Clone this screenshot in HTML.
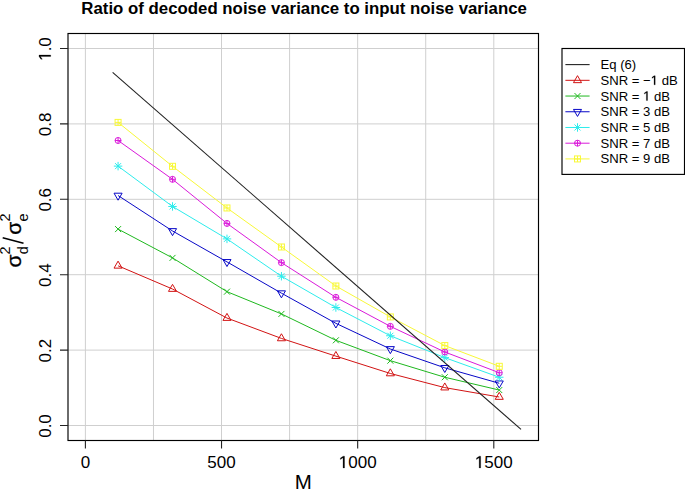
<!DOCTYPE html>
<html><head><meta charset="utf-8"><style>
html,body{margin:0;padding:0;background:#fff;width:685px;height:493px;overflow:hidden}
svg{display:block;font-family:"Liberation Sans",sans-serif}
</style></head><body>
<svg width="685" height="493" viewBox="0 0 685 493" font-family="Liberation Sans, sans-serif">
<rect width="685" height="493" fill="#fff"/>
<path d="M85.4 33.5V440.5M153.47 33.5V440.5M221.53 33.5V440.5M289.6 33.5V440.5M357.67 33.5V440.5M425.73 33.5V440.5M493.8 33.5V440.5M68 425.5H538.5M68 350.1H538.5M68 274.7H538.5M68 199.3H538.5M68 123.9H538.5M68 48.5H538.5" stroke="#cfcfcf" stroke-width="1" fill="none"/>
<g fill="none" stroke-width="1.0">
<polyline points="118.07,265.8 172.53,289.03 226.98,318.06 281.43,338.41 335.89,356.13 390.34,373.47 444.79,387.61 499.25,397" stroke="#d21313"/>
<polygon points="118.07,261.14 122.11,268.14 114.03,268.14" stroke="#d21313"/>
<polygon points="172.53,284.36 176.57,291.36 168.48,291.36" stroke="#d21313"/>
<polygon points="226.98,313.39 231.02,320.39 222.94,320.39" stroke="#d21313"/>
<polygon points="281.43,333.75 285.47,340.75 277.39,340.75" stroke="#d21313"/>
<polygon points="335.89,351.47 339.93,358.46 331.84,358.46" stroke="#d21313"/>
<polygon points="390.34,368.81 394.38,375.81 386.3,375.81" stroke="#d21313"/>
<polygon points="444.79,382.95 448.83,389.94 440.75,389.94" stroke="#d21313"/>
<polygon points="499.25,392.33 503.29,399.33 495.2,399.33" stroke="#d21313"/>
<polyline points="118.07,229.08 172.53,257.89 226.98,291.67 281.43,313.91 335.89,340.3 390.34,360.66 444.79,377.24 499.25,390.06" stroke="#1eb81e"/>
<path d="M115.07 226.08L121.07 232.08M115.07 232.08L121.07 226.08" stroke="#1eb81e"/>
<path d="M169.53 254.89L175.53 260.89M169.53 260.89L175.53 254.89" stroke="#1eb81e"/>
<path d="M223.98 288.67L229.98 294.67M223.98 294.67L229.98 288.67" stroke="#1eb81e"/>
<path d="M278.43 310.91L284.43 316.91M278.43 316.91L284.43 310.91" stroke="#1eb81e"/>
<path d="M332.89 337.3L338.89 343.3M332.89 343.3L338.89 337.3" stroke="#1eb81e"/>
<path d="M387.34 357.66L393.34 363.66M387.34 363.66L393.34 357.66" stroke="#1eb81e"/>
<path d="M441.79 374.24L447.79 380.24M441.79 380.24L447.79 374.24" stroke="#1eb81e"/>
<path d="M496.25 387.06L502.25 393.06M496.25 393.06L502.25 387.06" stroke="#1eb81e"/>
<polyline points="118.07,195.53 172.53,230.97 226.98,261.88 281.43,293.17 335.89,323.33 390.34,348.97 444.79,367.82 499.25,383.28" stroke="#0707c7"/>
<polygon points="118.07,200.2 122.11,193.2 114.03,193.2" stroke="#0707c7"/>
<polygon points="172.53,235.63 176.57,228.64 168.48,228.64" stroke="#0707c7"/>
<polygon points="226.98,266.55 231.02,259.55 222.94,259.55" stroke="#0707c7"/>
<polygon points="281.43,297.84 285.47,290.84 277.39,290.84" stroke="#0707c7"/>
<polygon points="335.89,328 339.93,321 331.84,321" stroke="#0707c7"/>
<polygon points="390.34,353.63 394.38,346.64 386.3,346.64" stroke="#0707c7"/>
<polygon points="444.79,372.48 448.83,365.49 440.75,365.49" stroke="#0707c7"/>
<polygon points="499.25,387.94 503.29,380.94 495.2,380.94" stroke="#0707c7"/>
<polyline points="118.07,166.12 172.53,206.46 226.98,238.88 281.43,276.21 335.89,307.5 390.34,335.77 444.79,357.64 499.25,377.24" stroke="#2decec"/>
<path d="M115.07 163.12L121.07 169.12M115.07 169.12L121.07 163.12M113.83 166.12L122.31 166.12M118.07 161.88L118.07 170.37" stroke="#2decec"/>
<path d="M169.53 203.46L175.53 209.46M169.53 209.46L175.53 203.46M168.28 206.46L176.77 206.46M172.53 202.22L172.53 210.71" stroke="#2decec"/>
<path d="M223.98 235.88L229.98 241.88M223.98 241.88L229.98 235.88M222.74 238.88L231.22 238.88M226.98 234.64L226.98 243.13" stroke="#2decec"/>
<path d="M278.43 273.21L284.43 279.21M278.43 279.21L284.43 273.21M277.19 276.21L285.67 276.21M281.43 271.97L281.43 280.45" stroke="#2decec"/>
<path d="M332.89 304.5L338.89 310.5M332.89 310.5L338.89 304.5M331.64 307.5L340.13 307.5M335.89 303.26L335.89 311.74" stroke="#2decec"/>
<path d="M387.34 332.77L393.34 338.77M387.34 338.77L393.34 332.77M386.1 335.77L394.58 335.77M390.34 331.53L390.34 340.02" stroke="#2decec"/>
<path d="M441.79 354.64L447.79 360.64M441.79 360.64L447.79 354.64M440.55 357.64L449.03 357.64M444.79 353.4L444.79 361.88" stroke="#2decec"/>
<path d="M496.25 374.24L502.25 380.24M496.25 380.24L502.25 374.24M495 377.24L503.49 377.24M499.25 373L499.25 381.49" stroke="#2decec"/>
<polyline points="118.07,140.49 172.53,179.32 226.98,223.43 281.43,262.64 335.89,297.32 390.34,326.35 444.79,351.99 499.25,372.72" stroke="#da1ada"/>
<circle cx="118.07" cy="140.49" r="3" stroke="#da1ada"/><path d="M115.07 140.49L121.07 140.49M118.07 137.49L118.07 143.49" stroke="#da1ada"/>
<circle cx="172.53" cy="179.32" r="3" stroke="#da1ada"/><path d="M169.53 179.32L175.53 179.32M172.53 176.32L172.53 182.32" stroke="#da1ada"/>
<circle cx="226.98" cy="223.43" r="3" stroke="#da1ada"/><path d="M223.98 223.43L229.98 223.43M226.98 220.43L226.98 226.43" stroke="#da1ada"/>
<circle cx="281.43" cy="262.64" r="3" stroke="#da1ada"/><path d="M278.43 262.64L284.43 262.64M281.43 259.64L281.43 265.64" stroke="#da1ada"/>
<circle cx="335.89" cy="297.32" r="3" stroke="#da1ada"/><path d="M332.89 297.32L338.89 297.32M335.89 294.32L335.89 300.32" stroke="#da1ada"/>
<circle cx="390.34" cy="326.35" r="3" stroke="#da1ada"/><path d="M387.34 326.35L393.34 326.35M390.34 323.35L390.34 329.35" stroke="#da1ada"/>
<circle cx="444.79" cy="351.99" r="3" stroke="#da1ada"/><path d="M441.79 351.99L447.79 351.99M444.79 348.99L444.79 354.99" stroke="#da1ada"/>
<circle cx="499.25" cy="372.72" r="3" stroke="#da1ada"/><path d="M496.25 372.72L502.25 372.72M499.25 369.72L499.25 375.72" stroke="#da1ada"/>
<polyline points="118.07,122.39 172.53,166.31 226.98,207.97 281.43,246.99 335.89,286.01 390.34,316.92 444.79,345.58 499.25,366.31" stroke="#f8f838"/>
<rect x="115.07" y="119.39" width="6" height="6" stroke="#f8f838"/><path d="M115.07 122.39L121.07 122.39M118.07 119.39L118.07 125.39" stroke="#f8f838"/>
<rect x="169.53" y="163.31" width="6" height="6" stroke="#f8f838"/><path d="M169.53 166.31L175.53 166.31M172.53 163.31L172.53 169.31" stroke="#f8f838"/>
<rect x="223.98" y="204.97" width="6" height="6" stroke="#f8f838"/><path d="M223.98 207.97L229.98 207.97M226.98 204.97L226.98 210.97" stroke="#f8f838"/>
<rect x="278.43" y="243.99" width="6" height="6" stroke="#f8f838"/><path d="M278.43 246.99L284.43 246.99M281.43 243.99L281.43 249.99" stroke="#f8f838"/>
<rect x="332.89" y="283.01" width="6" height="6" stroke="#f8f838"/><path d="M332.89 286.01L338.89 286.01M335.89 283.01L335.89 289.01" stroke="#f8f838"/>
<rect x="387.34" y="313.92" width="6" height="6" stroke="#f8f838"/><path d="M387.34 316.92L393.34 316.92M390.34 313.92L390.34 319.92" stroke="#f8f838"/>
<rect x="441.79" y="342.58" width="6" height="6" stroke="#f8f838"/><path d="M441.79 345.58L447.79 345.58M444.79 342.58L444.79 348.58" stroke="#f8f838"/>
<rect x="496.25" y="363.31" width="6" height="6" stroke="#f8f838"/><path d="M496.25 366.31L502.25 366.31M499.25 363.31L499.25 369.31" stroke="#f8f838"/>
</g>
<path d="M112.63 72.3L521.03 429.31" stroke="#222" stroke-width="1.1" fill="none"/>
<rect x="68" y="33.5" width="470.5" height="407" fill="none" stroke="#000" stroke-width="1.15"/>
<path d="M85.4 440.5V448.5M221.53 440.5V448.5M357.67 440.5V448.5M493.8 440.5V448.5M60 425.5H68M60 350.1H68M60 274.7H68M60 199.3H68M60 123.9H68M60 48.5H68" stroke="#222" stroke-width="1.1" fill="none"/>
<g transform="translate(85.4 467.9)"><text x="-4.73" y="0" font-size="17">0</text></g>
<g transform="translate(221.53 467.9)"><text x="-14.18" y="0" font-size="17">500</text></g>
<g transform="translate(357.67 467.9)"><text x="-18.91" y="0" font-size="17"> 000</text><path transform="translate(-18.91 0) scale(0.008301 -0.008301)" stroke="#000" stroke-width="30.12" d="M515 0L515 1237L197 1010L197 1180L530 1409L696 1409L696 0Z"/></g>
<g transform="translate(493.8 467.9)"><text x="-18.91" y="0" font-size="17"> 500</text><path transform="translate(-18.91 0) scale(0.008301 -0.008301)" stroke="#000" stroke-width="30.12" d="M515 0L515 1237L197 1010L197 1180L530 1409L696 1409L696 0Z"/></g>
<g transform="translate(50.7 426) rotate(-90)"><text x="-11.82" y="0" font-size="17">0.0</text></g>
<g transform="translate(50.7 350.6) rotate(-90)"><text x="-11.82" y="0" font-size="17">0.2</text></g>
<g transform="translate(50.7 275.2) rotate(-90)"><text x="-11.82" y="0" font-size="17">0.4</text></g>
<g transform="translate(50.7 199.8) rotate(-90)"><text x="-11.82" y="0" font-size="17">0.6</text></g>
<g transform="translate(50.7 124.4) rotate(-90)"><text x="-11.82" y="0" font-size="17">0.8</text></g>
<g transform="translate(50.7 49) rotate(-90)"><text x="-11.82" y="0" font-size="17"> .0</text><path transform="translate(-11.82 0) scale(0.008301 -0.008301)" stroke="#000" stroke-width="30.12" d="M515 0L515 1237L197 1010L197 1180L530 1409L696 1409L696 0Z"/></g>
<text x="304.1" y="14.1" font-size="15.8" font-weight="bold" text-anchor="middle" textLength="445.5" lengthAdjust="spacingAndGlyphs">Ratio of decoded noise variance to input noise variance</text>
<text x="303.3" y="488.5" font-size="20.5" text-anchor="middle">M</text>
<g transform="translate(21.2 267.5) rotate(-90)">
<text x="0" y="0" font-size="21" stroke="#000" stroke-width="0.3">σ</text>
<text x="13.1" y="-11.4" font-size="14.5">2</text>
<text x="13.2" y="6.85" font-size="14.5">d</text>
<text x="32.7" y="0" font-size="21" stroke="#000" stroke-width="0.3">σ</text>
<text x="46.0" y="-11.4" font-size="14.5">2</text>
<text x="46.1" y="6.8" font-size="14.5">e</text>
</g>
<path d="M2.7 237.8L23.5 243.3" stroke="#000" stroke-width="1.45"/>
<rect x="562" y="48.5" width="122.5" height="125.9" fill="#fff" stroke="#000" stroke-width="1.15"/>
<path d="M565.4 64.6H589.6" stroke="#222" stroke-width="1.1"/>
<g transform="translate(600.5 69.1)"><text x="0" y="0" font-size="13.1">Eq (6)</text></g>
<g fill="none" stroke-width="1.0">
<path d="M565.4 80.32H589.6" stroke="#d21313"/>
<polygon points="577.5,75.65 581.54,82.65 573.46,82.65" stroke="#d21313"/>
<path d="M565.4 96.04H589.6" stroke="#1eb81e"/>
<path d="M574.5 93.04L580.5 99.04M574.5 99.04L580.5 93.04" stroke="#1eb81e"/>
<path d="M565.4 111.76H589.6" stroke="#0707c7"/>
<polygon points="577.5,116.43 581.54,109.43 573.46,109.43" stroke="#0707c7"/>
<path d="M565.4 127.48H589.6" stroke="#2decec"/>
<path d="M574.5 124.48L580.5 130.48M574.5 130.48L580.5 124.48M573.26 127.48L581.74 127.48M577.5 123.24L577.5 131.72" stroke="#2decec"/>
<path d="M565.4 143.2H589.6" stroke="#da1ada"/>
<circle cx="577.5" cy="143.2" r="3" stroke="#da1ada"/><path d="M574.5 143.2L580.5 143.2M577.5 140.2L577.5 146.2" stroke="#da1ada"/>
<path d="M565.4 158.92H589.6" stroke="#f8f838"/>
<rect x="574.5" y="155.92" width="6" height="6" stroke="#f8f838"/><path d="M574.5 158.92L580.5 158.92M577.5 155.92L577.5 161.92" stroke="#f8f838"/>
</g>
<g transform="translate(600.5 84.82)"><text x="0" y="0" font-size="13.1">SNR = −  dB</text><path transform="translate(50.24 0) scale(0.006396 -0.006396)" stroke="#000" stroke-width="39.08" d="M515 0L515 1237L197 1010L197 1180L530 1409L696 1409L696 0Z"/></g>
<g transform="translate(600.5 100.54)"><text x="0" y="0" font-size="13.1">SNR =   dB</text><path transform="translate(42.59 0) scale(0.006396 -0.006396)" stroke="#000" stroke-width="39.08" d="M515 0L515 1237L197 1010L197 1180L530 1409L696 1409L696 0Z"/></g>
<g transform="translate(600.5 116.26)"><text x="0" y="0" font-size="13.1">SNR = 3 dB</text></g>
<g transform="translate(600.5 131.98)"><text x="0" y="0" font-size="13.1">SNR = 5 dB</text></g>
<g transform="translate(600.5 147.7)"><text x="0" y="0" font-size="13.1">SNR = 7 dB</text></g>
<g transform="translate(600.5 163.42)"><text x="0" y="0" font-size="13.1">SNR = 9 dB</text></g>
</svg>
</body></html>
